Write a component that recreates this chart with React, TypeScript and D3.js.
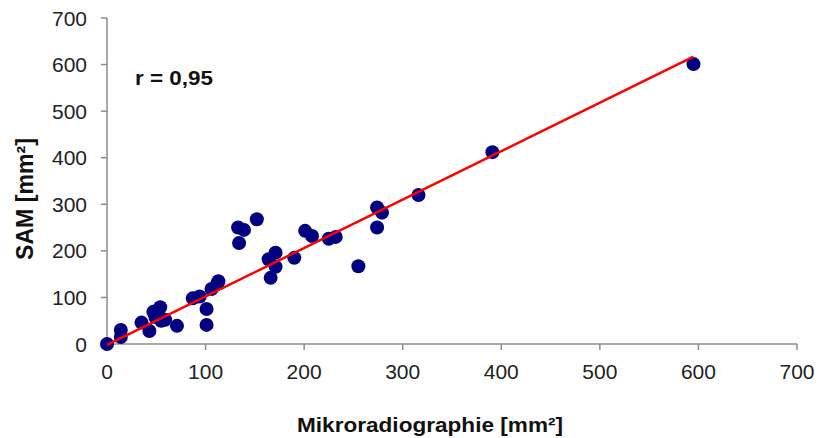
import React from "react";
import * as d3 from "d3";

const mikro = [0, 14, 14, 35, 43, 47, 54, 49, 55, 59, 71, 87, 94, 101, 101, 106, 112, 113, 134, 133, 139, 152, 164, 171, 171, 166, 190, 201, 208, 225, 232, 255, 274, 279, 274, 316, 391, 595];
const sam = [0, 30, 15, 46, 28, 69, 79, 58, 50, 52, 39, 98, 102, 75, 41, 118, 130, 135, 217, 250, 245, 268, 182, 196, 166, 142, 185, 243, 232, 226, 230, 167, 293, 282, 250, 320, 412, 601];
const fitX = [0, 595];
const fitY = [-2, 617];
const ticks = [0, 100, 200, 300, 400, 500, 600, 700];
const rLabel = "r = 0,95";
const xTitle = "Mikroradiographie [mm²]";
const yTitle = "SAM [mm²]";

export default function App() {
  const W = 820, H = 438;
  const x = d3.scaleLinear().domain([0, 700]).range([107, 797]);
  const y = d3.scaleLinear().domain([0, 700]).range([344, 18]);
  const line = d3.line<number>().x((d) => x(fitX[d])).y((d) => y(fitY[d]));
  const font = "Arial, 'Liberation Sans', sans-serif";
  const axisColor = "#8c8c8c";
  return (
    <svg width={W} height={H} style={{ position: "absolute", left: 0, top: 0, background: "#fff" }} fontFamily={font}>
      <line x1={x(0)} x2={x(0)} y1={y(0)} y2={y(700)} stroke={axisColor} strokeWidth={1.5} />
      <line x1={x(0)} x2={x(700)} y1={y(0)} y2={y(0)} stroke={axisColor} strokeWidth={1.5} />
      {ticks.map((t) => (
        <g key={"y" + t}>
          <line x1={x(0) - 6} x2={x(0)} y1={y(t)} y2={y(t)} stroke={axisColor} strokeWidth={1.5} />
          <text x={87} y={y(t)} dy="0.36em" textAnchor="end" fontSize={21} fill="#222">{t}</text>
        </g>
      ))}
      {ticks.map((t) => (
        <g key={"x" + t}>
          <line x1={x(t)} x2={x(t)} y1={y(0)} y2={y(0) + 6} stroke={axisColor} strokeWidth={1.5} />
          <text x={x(t)} y={379} textAnchor="middle" fontSize={21} fill="#222">{t}</text>
        </g>
      ))}
      {mikro.map((m, i) => (
        <circle key={i} cx={x(m)} cy={y(sam[i])} r={7} fill="#000080" />
      ))}
      <path d={line(fitX.map((_, i) => i)) || ""} fill="none" stroke="#ff0000" strokeWidth={2.5} />
      <text x={135} y={85} fontSize={21} fontWeight="bold" fill="#111" textLength={78} lengthAdjust="spacingAndGlyphs">{rLabel}</text>
      <text x={297} y={432} fontSize={21} fontWeight="bold" fill="#111" textLength={266} lengthAdjust="spacingAndGlyphs">{xTitle}</text>
      <text transform={`translate(33,260) rotate(-90)`} fontSize={23} fontWeight="bold" fill="#111" textLength={122} lengthAdjust="spacingAndGlyphs">{yTitle}</text>
    </svg>
  );
}
